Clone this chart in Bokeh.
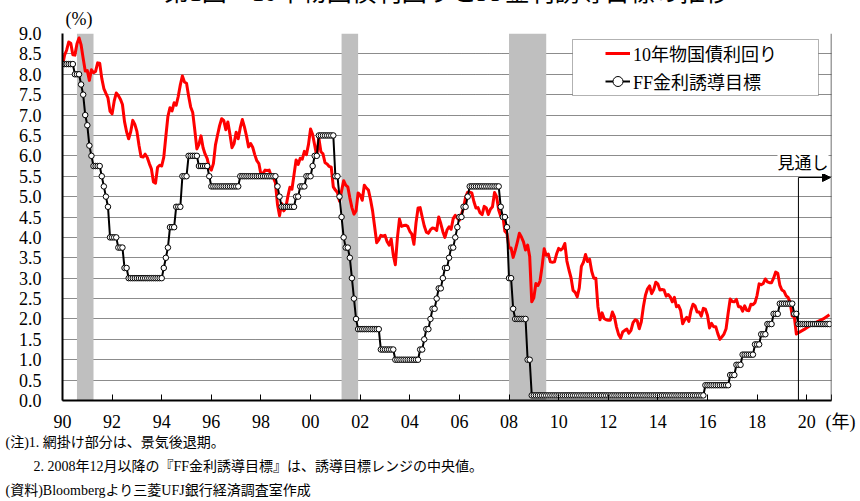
from bokeh.plotting import figure
from bokeh.models import (Range1d, FixedTicker, PrintfTickFormatter, Label, Legend, LegendItem,
                          BoxAnnotation, Arrow, NormalHead, Span, Title)
from bokeh.embed import file_html
from bokeh.resources import INLINE

# ---------------- data ----------------
START_YEAR = 1990  # monthly series start in January 1990

# US 10-year Treasury yield, monthly average (%), 1990-01 .. 2019-08
yield_10y = [
    8.21, 8.47, 8.59, 8.79, 8.76, 8.48, 8.47, 8.75, 8.89, 8.72, 8.39, 8.08,  # 1990
    8.09, 7.85, 8.11, 8.04, 8.07, 8.28, 8.27, 7.90, 7.65, 7.53, 7.42, 7.09,  # 1991
    7.03, 7.34, 7.54, 7.48, 7.39, 7.26, 6.84, 6.59, 6.42, 6.59, 6.87, 6.77,  # 1992
    6.60, 6.26, 5.98, 5.97, 6.04, 5.96, 5.81, 5.68, 5.36, 5.33, 5.72, 5.77,  # 1993
    5.75, 5.97, 6.48, 6.97, 7.18, 7.10, 7.30, 7.24, 7.46, 7.74, 7.96, 7.81,  # 1994
    7.78, 7.47, 7.20, 7.06, 6.63, 6.17, 6.28, 6.49, 6.20, 6.04, 5.93, 5.71,  # 1995
    5.65, 5.81, 6.27, 6.51, 6.74, 6.91, 6.87, 6.64, 6.83, 6.53, 6.20, 6.30,  # 1996
    6.58, 6.42, 6.69, 6.89, 6.71, 6.49, 6.22, 6.30, 6.21, 6.03, 5.88, 5.81,  # 1997
    5.54, 5.57, 5.65, 5.64, 5.65, 5.50, 5.46, 5.34, 4.81, 4.53, 4.83, 4.65,  # 1998
    4.72, 5.00, 5.23, 5.18, 5.54, 5.90, 5.79, 5.94, 5.92, 6.11, 6.03, 6.28,  # 1999
    6.66, 6.52, 6.26, 5.99, 6.44, 6.10, 6.05, 5.83, 5.80, 5.74, 5.72, 5.24,  # 2000
    5.16, 5.10, 4.89, 5.14, 5.39, 5.28, 5.24, 4.97, 4.73, 4.57, 4.65, 5.09,  # 2001
    5.04, 4.91, 5.28, 5.21, 5.16, 4.93, 4.65, 4.26, 3.87, 3.94, 4.05, 4.03,  # 2002
    4.05, 3.90, 3.81, 3.96, 3.57, 3.33, 3.98, 4.45, 4.27, 4.29, 4.30, 4.27,  # 2003
    4.15, 4.08, 3.83, 4.35, 4.72, 4.73, 4.50, 4.28, 4.13, 4.10, 4.19, 4.23,  # 2004
    4.22, 4.17, 4.50, 4.34, 4.14, 4.00, 4.18, 4.26, 4.20, 4.46, 4.54, 4.47,  # 2005
    4.42, 4.57, 4.72, 4.99, 5.11, 5.11, 5.09, 4.88, 4.72, 4.73, 4.60, 4.56,  # 2006
    4.76, 4.72, 4.56, 4.69, 4.75, 5.10, 5.00, 4.67, 4.52, 4.53, 4.15, 4.10,  # 2007
    3.74, 3.74, 3.51, 3.68, 3.88, 4.10, 4.01, 3.89, 3.69, 3.81, 3.53, 2.42,  # 2008
    2.52, 2.87, 2.82, 2.93, 3.29, 3.72, 3.56, 3.59, 3.40, 3.39, 3.40, 3.59,  # 2009
    3.73, 3.69, 3.73, 3.85, 3.42, 3.20, 3.01, 2.70, 2.65, 2.54, 2.76, 3.29,  # 2010
    3.39, 3.58, 3.41, 3.46, 3.17, 3.00, 3.00, 2.30, 1.98, 2.15, 2.01, 1.98,  # 2011
    1.97, 1.97, 2.17, 2.05, 1.80, 1.62, 1.53, 1.68, 1.72, 1.75, 1.65, 1.72,  # 2012
    1.91, 1.98, 1.96, 1.76, 1.93, 2.30, 2.58, 2.74, 2.81, 2.62, 2.72, 2.90,  # 2013
    2.86, 2.71, 2.72, 2.71, 2.56, 2.60, 2.54, 2.42, 2.53, 2.30, 2.33, 2.21,  # 2014
    1.88, 1.98, 2.04, 1.94, 2.20, 2.36, 2.32, 2.17, 2.17, 2.07, 2.26, 2.24,  # 2015
    2.09, 1.78, 1.89, 1.81, 1.81, 1.64, 1.50, 1.56, 1.63, 1.76, 2.14, 2.49,  # 2016
    2.43, 2.42, 2.48, 2.30, 2.30, 2.19, 2.32, 2.21, 2.20, 2.36, 2.35, 2.40,  # 2017
    2.58, 2.86, 2.84, 2.87, 2.98, 2.91, 2.89, 2.89, 3.00, 3.15, 3.12, 2.83,  # 2018
    2.71, 2.68, 2.57, 2.53, 2.40, 2.07, 2.06, 1.63,                          # 2019
]

# 10-year yield outlook (見通し)
forecast_month = ["2019-12", "2020-03", "2020-06", "2020-09", "2020-12"]
forecast_yield = [1.75, 1.85, 1.93, 2.00, 2.10]

# FF rate target (mid-point of range after Dec 2008), monthly 1990-01 .. 2020-12
ff_target = [
    8.25, 8.25, 8.25, 8.25, 8.25, 8.25, 8.00, 8.00, 8.00, 7.75, 7.50, 7.00,  # 1990
    6.75, 6.25, 6.00, 5.75, 5.75, 5.75, 5.75, 5.50, 5.25, 5.00, 4.75, 4.00,  # 1991
    4.00, 4.00, 4.00, 3.75, 3.75, 3.75, 3.25, 3.25, 3.00, 3.00, 3.00, 3.00,  # 1992
    3.00, 3.00, 3.00, 3.00, 3.00, 3.00, 3.00, 3.00, 3.00, 3.00, 3.00, 3.00,  # 1993
    3.00, 3.25, 3.50, 3.75, 4.25, 4.25, 4.25, 4.75, 4.75, 4.75, 5.50, 5.50,  # 1994
    5.50, 6.00, 6.00, 6.00, 6.00, 6.00, 5.75, 5.75, 5.75, 5.75, 5.75, 5.50,  # 1995
    5.25, 5.25, 5.25, 5.25, 5.25, 5.25, 5.25, 5.25, 5.25, 5.25, 5.25, 5.25,  # 1996
    5.25, 5.25, 5.50, 5.50, 5.50, 5.50, 5.50, 5.50, 5.50, 5.50, 5.50, 5.50,  # 1997
    5.50, 5.50, 5.50, 5.50, 5.50, 5.50, 5.50, 5.50, 5.25, 5.00, 4.75, 4.75,  # 1998
    4.75, 4.75, 4.75, 4.75, 4.75, 5.00, 5.00, 5.25, 5.25, 5.25, 5.50, 5.50,  # 1999
    5.50, 5.75, 6.00, 6.00, 6.50, 6.50, 6.50, 6.50, 6.50, 6.50, 6.50, 6.50,  # 2000
    5.50, 5.50, 5.00, 4.50, 4.00, 3.75, 3.75, 3.50, 3.00, 2.50, 2.00, 1.75,  # 2001
    1.75, 1.75, 1.75, 1.75, 1.75, 1.75, 1.75, 1.75, 1.75, 1.75, 1.25, 1.25,  # 2002
    1.25, 1.25, 1.25, 1.25, 1.25, 1.00, 1.00, 1.00, 1.00, 1.00, 1.00, 1.00,  # 2003
    1.00, 1.00, 1.00, 1.00, 1.00, 1.25, 1.25, 1.50, 1.75, 1.75, 2.00, 2.25,  # 2004
    2.25, 2.50, 2.75, 2.75, 3.00, 3.25, 3.25, 3.50, 3.75, 3.75, 4.00, 4.25,  # 2005
    4.50, 4.50, 4.75, 4.75, 5.00, 5.25, 5.25, 5.25, 5.25, 5.25, 5.25, 5.25,  # 2006
    5.25, 5.25, 5.25, 5.25, 5.25, 5.25, 5.25, 5.25, 4.75, 4.50, 4.50, 4.25,  # 2007
    3.00, 3.00, 2.25, 2.00, 2.00, 2.00, 2.00, 2.00, 2.00, 1.00, 1.00, 0.125,  # 2008
    0.125, 0.125, 0.125, 0.125, 0.125, 0.125, 0.125, 0.125, 0.125, 0.125, 0.125, 0.125,  # 2009
    0.125, 0.125, 0.125, 0.125, 0.125, 0.125, 0.125, 0.125, 0.125, 0.125, 0.125, 0.125,  # 2010
    0.125, 0.125, 0.125, 0.125, 0.125, 0.125, 0.125, 0.125, 0.125, 0.125, 0.125, 0.125,  # 2011
    0.125, 0.125, 0.125, 0.125, 0.125, 0.125, 0.125, 0.125, 0.125, 0.125, 0.125, 0.125,  # 2012
    0.125, 0.125, 0.125, 0.125, 0.125, 0.125, 0.125, 0.125, 0.125, 0.125, 0.125, 0.125,  # 2013
    0.125, 0.125, 0.125, 0.125, 0.125, 0.125, 0.125, 0.125, 0.125, 0.125, 0.125, 0.125,  # 2014
    0.125, 0.125, 0.125, 0.125, 0.125, 0.125, 0.125, 0.125, 0.125, 0.125, 0.125, 0.375,  # 2015
    0.375, 0.375, 0.375, 0.375, 0.375, 0.375, 0.375, 0.375, 0.375, 0.375, 0.375, 0.625,  # 2016
    0.625, 0.625, 0.875, 0.875, 0.875, 1.125, 1.125, 1.125, 1.125, 1.125, 1.125, 1.375,  # 2017
    1.375, 1.375, 1.625, 1.625, 1.625, 1.875, 1.875, 1.875, 2.125, 2.125, 2.125, 2.375,  # 2018
    2.375, 2.375, 2.375, 2.375, 2.375, 2.375, 2.125, 2.125, 1.875, 1.875, 1.875, 1.875,  # 2019
    1.875, 1.875, 1.875, 1.875, 1.875, 1.875, 1.875, 1.875, 1.875, 1.875, 1.875, 1.875,  # 2020
]

# Recession periods (shaded)
recession_start = ["1990-08", "2001-04", "2008-01"]
recession_end = ["1991-04", "2001-12", "2009-07"]

forecast_start = "2019-09"

tick_years = [1990, 1992, 1994, 1996, 1998, 2000, 2002, 2004, 2006, 2008, 2010,
              2012, 2014, 2016, 2018, 2020, 2021]
tick_labels = ["90", "92", "94", "96", "98", "00", "02", "04", "06", "08", "10",
               "12", "14", "16", "18", "20", "\u3000(年)"]
y_ticks = [0.0, 0.5, 1.0, 1.5, 2.0, 2.5, 3.0, 3.5, 4.0, 4.5, 5.0, 5.5, 6.0, 6.5,
           7.0, 7.5, 8.0, 8.5, 9.0]

title_text = "第1図：10年物国債利回りとFF金利誘導目標の推移"
unit_text = "(%)"
legend_labels = ["10年物国債利回り", "FF金利誘導目標"]
notes = ["(注)1. 網掛け部分は、景気後退期。",
         "\u3000\u30002. 2008年12月以降の『FF金利誘導目標』は、誘導目標レンジの中央値。",
         "(資料)Bloombergより三菱UFJ銀行経済調査室作成"]


def ym(s):
    y, m = s.split("-")
    return int(y) + (int(m) - 1) / 12.0


# ---------------- layout (page pixels) ----------------
SHIFT = 26                      # canvas starts above the page top (title is cut off)
FL, FR, FT, FB = 62, 831, 33, 400
X0, X1, Y0, Y1 = 1990, 2021, 0, 9
W, H = 860, 501 + SHIFT


def X(px):
    return X0 + (px - FL) * (X1 - X0) / (FR - FL)


def Y(py):
    return Y0 + (FB - py) * (Y1 - Y0) / (FB - FT)


SERIF = "'Liberation Serif', 'Noto Sans CJK JP'"
GOTHIC = "'Noto Sans CJK JP'"

x_actual = [START_YEAR + i / 12.0 for i in range(len(yield_10y))]
x_red = x_actual + [ym(s) for s in forecast_month]
y_red = yield_10y + forecast_yield
x_ff = [START_YEAR + i / 12.0 for i in range(len(ff_target))]

p = figure(width=W, height=H, x_range=Range1d(X0, X1), y_range=Range1d(Y0, Y1),
           output_backend="svg", toolbar_location=None, tools="",
           min_border_left=FL, min_border_right=W - FR, min_border_top=FT + SHIFT,
           min_border_bottom=501 - FB, outline_line_color=None,
           background_fill_color="white", border_fill_color="white",
           styles={"margin-top": f"-{SHIFT}px"})

# axes
p.xaxis.ticker = FixedTicker(ticks=tick_years)
p.xaxis.major_label_overrides = {t: l for t, l in zip(tick_years, tick_labels)}
p.xaxis.major_tick_in = 6
p.xaxis.major_tick_out = 0
p.xaxis.minor_tick_line_color = None
p.xaxis.axis_line_width = 2
p.xaxis.major_label_standoff = 11
p.xaxis.major_label_text_font = SERIF
p.xaxis.major_label_text_font_size = "18px"
p.xaxis.major_label_text_color = "black"

p.yaxis.ticker = FixedTicker(ticks=y_ticks)
p.yaxis.formatter = PrintfTickFormatter(format="%.1f")
p.yaxis.major_tick_in = 0
p.yaxis.major_tick_out = 0
p.yaxis.minor_tick_line_color = None
p.yaxis.axis_line_width = 2
p.yaxis.major_label_standoff = 21
p.yaxis.major_label_text_font = SERIF
p.yaxis.major_label_text_font_size = "18px"
p.yaxis.major_label_text_color = "black"

p.xgrid.visible = False
p.ygrid.grid_line_color = "black"
p.ygrid.grid_line_dash = "1 1"
p.ygrid.grid_line_width = 1
p.ygrid.grid_line_alpha = 0.9

# recession shading
p.quad(left=[ym(s) for s in recession_start], right=[ym(s) for s in recession_end],
       bottom=Y0, top=Y1, fill_color="#BFBFBF", line_color=None)

# series
r_red = p.line(x_red, y_red, line_color="#FF0000", line_width=3, line_join="round")
r_ff = p.line(x_ff, ff_target, line_color="black", line_width=2)
r_ffp = p.scatter(x_ff, ff_target, marker="circle", size=5.5, fill_color="white",
                  line_color="black", line_width=1)

# right border
p.add_layout(Span(location=X1, dimension="height", line_color="#404040", line_width=1.5))

# legend box + legend
p.add_layout(BoxAnnotation(left=X(572), right=X(818), top=Y(39), bottom=Y(95),
                           fill_color="white", fill_alpha=1, line_color="black",
                           line_width=1))
legend = Legend(items=[LegendItem(label=legend_labels[0], renderers=[r_red]),
                       LegendItem(label=legend_labels[1], renderers=[r_ff, r_ffp])],
                location=(605 - FL, FB - 95), padding=0, spacing=0, margin=0,
                glyph_width=25, glyph_height=28, label_height=28, label_standoff=3,
                label_text_font=SERIF, label_text_font_size="18px",
                label_text_color="black", border_line_color=None,
                background_fill_alpha=0)
p.add_layout(legend)

# outlook marker
fc = ym(forecast_start)
p.add_layout(Arrow(x_start=fc, y_start=Y0, x_end=fc, y_end=Y(177), end=None,
                   line_color="black", line_width=1))
p.add_layout(Arrow(x_start=fc, y_start=Y(177), x_end=X(830), y_end=Y(177),
                   end=NormalHead(size=8, fill_color="black", line_color="black"),
                   line_color="black", line_width=1))
p.add_layout(Label(x=X1, y=Y(161), text="見通し", text_align="right",
                   text_baseline="middle", x_offset=-3, text_font=GOTHIC,
                   text_font_size="17px", text_color="black",
                   background_fill_color="white"))

# texts outside the plot area (side panels, so they are not clipped)
p.add_layout(Title(text=unit_text, align="left", offset=3, vertical_align="top",
                   standoff=6, text_font=SERIF, text_font_size="18px",
                   text_font_style="normal", text_color="black"), "above")
p.add_layout(Title(text=title_text, align="center", vertical_align="bottom",
                   standoff=0, text_font=SERIF, text_font_size="25px",
                   text_font_style="normal", text_color="black"), "above")
p.add_layout(Title(text="\n".join(notes), align="left", offset=5 - FL,
                   vertical_align="top", standoff=0, text_font=SERIF,
                   text_font_size="14px", text_font_style="normal",
                   text_line_height=1.62, text_color="black"), "below")

open("out.html", "w").write(file_html(p, INLINE))
